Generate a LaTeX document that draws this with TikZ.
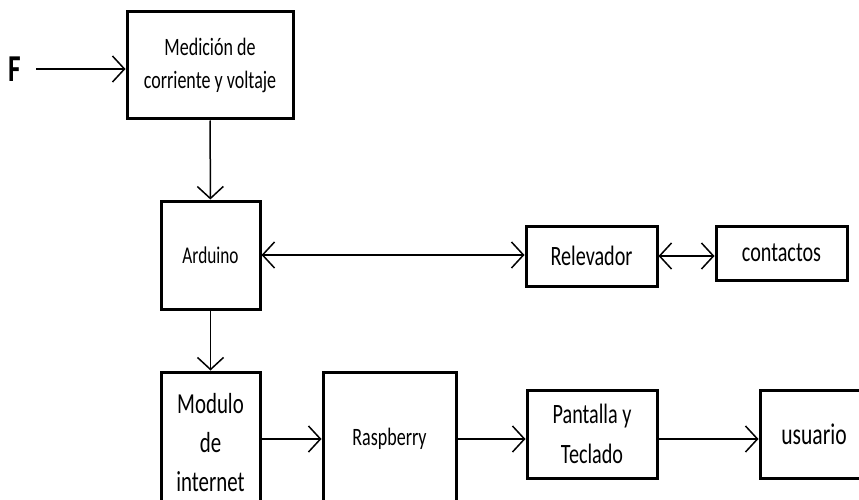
\documentclass[tikz,border=0pt]{standalone}
\usepackage{fontspec}
\newfontfamily\cf[FakeStretch=0.72]{Carlito}
\usetikzlibrary{arrows.meta}
\begin{document}
\begin{tikzpicture}[x=1pt,y=-1pt,
  box/.style={draw, line width=3pt, inner sep=0pt, align=center, font=\cf},
  tip/.style={Straight Barb[length=12pt,width=26pt,line width=1.5pt]},
  arr/.style={line width=1.5pt, -{Straight Barb[length=12pt,width=26pt,line width=1.5pt]}},
  darr/.style={line width=1.5pt, {Straight Barb[length=12pt,width=26pt,line width=1.5pt]}-{Straight Barb[length=12pt,width=26pt,line width=1.5pt]}}]
\useasboundingbox (0,0) rectangle (859,500);
\clip (0,0) rectangle (859,500);
\fill[white] (0,0) rectangle (859,500);
\node[font=\cf\bfseries\fontsize{38}{40}\selectfont, inner sep=0pt] (F) at (15,69) {F};
\node[box, minimum width=166pt, minimum height=107pt, font=\cf\fontsize{25}{33}\selectfont] (med) at (210,65.5) {Medición de\\corriente y voltaje};
\node[box, minimum width=99pt, minimum height=108pt, font=\cf\fontsize{24}{26}\selectfont] (ard) at (210.5,255) {Arduino};
\node[box, minimum width=131pt, minimum height=60pt, font=\cf\fontsize{28}{30}\selectfont] (rel) at (591.5,256) {Relevador};
\node[box, minimum width=131pt, minimum height=54pt, font=\cf\fontsize{28}{30}\selectfont] (con) at (781.5,253) {contactos};
\node[box, minimum width=99pt, minimum height=142pt, font=\cf\fontsize{29}{39}\selectfont] (mod) at (210.5,443) {Modulo\\de\\internet};
\node[box, minimum width=133pt, minimum height=134pt, font=\cf\fontsize{25}{28}\selectfont] (ras) at (389.5,439) {Raspberry};
\node[box, minimum width=130pt, minimum height=88pt, font=\cf\fontsize{28}{40}\selectfont] (pan) at (592,434) {Pantalla y\\Teclado};
\node[box, minimum width=108pt, minimum height=88pt, font=\cf\fontsize{30}{32}\selectfont] (usu) at (814,434) {usuario};
\draw[arr, shorten <=15pt] (F.east) -- (F.east -| med.west);
\draw[arr] (med) -- (ard);
\draw[darr] (ard.east) -- (ard.east -| rel.west);
\draw[darr, line width=2pt] (rel.east) -- (rel.east -| con.west);
\draw[arr] (ard) -- (mod);
\draw[arr] (ras.west -| mod.east) -- (ras.west);
\draw[arr] (ras.east) -- (ras.east -| pan.west);
\draw[arr] (ras.east -| pan.east) -- (ras.east -| usu.west);
\end{tikzpicture}
\end{document}
